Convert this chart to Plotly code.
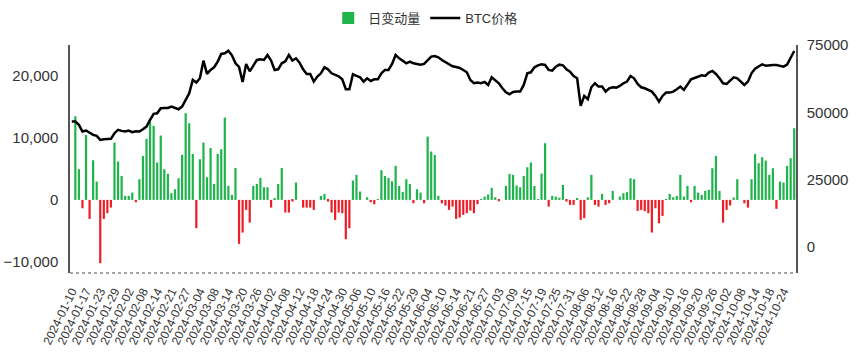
import plotly.graph_objects as go
import pandas as pd

# ---- data ----
holidays = ["2024-01-15", "2024-02-19", "2024-03-29", "2024-05-27", "2024-06-19", "2024-09-02"]
dates = [d.strftime("%Y-%m-%d") for d in pd.bdate_range("2024-01-10", "2024-10-29")
         if d.strftime("%Y-%m-%d") not in holidays]

daily_change = [
    0, 13500, 4950, -1350, 10490, -3070, 6400, 2960, -10220, -3070,
    -2150, -1240, 9250, 6190, 3870, 650, 650, 1180, -380, 3340,
    7100, 9850, 12640, 11940, 6030, 10380, 4950, 4200, 1080, 1720,
    3500, 7260, 13990, 12370, 7420, -4570, 6560, 9250, 3660, 8390,
    2580, 7420, 8180, 13290, 2260, 800, 5160, -7100, -5270, -1610,
    -3670, 2260, 2580, 3550, 2040, 2040, -1240, 220, 2580, 5160,
    -2040, -2040, -270, 2800, 0, -1240, -1240, -1240, -1610, 0,
    650, 970, -270, -2040, -3230, -2040, -2150, -6350, -4570, 3120,
    4040, 1350, 0, 430, -380, -700, 110, 4790, 3870, 3550,
    3010, 5490, 2260, 1290, 3340, 2580, -540, 1720, 1180, -540,
    10220, 7800, 7260, 650, -540, -920, -1610, -1080, -3070, -2850,
    -2420, -2150, -1720, -2150, -700, 110, 540, 860, 1940, 430,
    -220, 0, 2260, 4200, 4040, 2310, 2040, 3870, 5270, 6030,
    2260, 110, 4250, 9150, -1080, 650, 540, 350, 2420, -270,
    -810, -810, 220, -3230, -2960, 430, 4040, -810, -1080, 970,
    -810, -540, 1450, 0, 540, 1080, 1240, 3500, 3340, -1780,
    -1610, -1830, -2150, -5270, -1350, -3770, -2580, 100, 970, 430,
    650, 4040, 540, 2260, -380, 2260, 1180, 800, 1450, 1610,
    5110, 7100, 1450, -3660, -1610, -910, 380, 3340, 0, -540,
    -1240, 3340, 7420, 5920, 6890, 6350, 4040, 5110, -1450, 2960,
    2800, 5490, 6730, 11570,
]

btc_price = [
    46590, 46590, 45360, 42890, 43260, 42520, 41650, 41280, 39800, 40050,
    40170, 40170, 42270, 43510, 43140, 42890, 43260, 42640, 43010, 42890,
    43760, 44740, 47210, 49440, 49680, 51530, 51660, 51660, 52150, 51530,
    51160, 52150, 54380, 57090, 62030, 61040, 62650, 69200, 64260, 65740,
    66730, 68830, 71670, 71910, 72900, 71170, 68210, 66850, 61290, 67960,
    65240, 67220, 69440, 69690, 69440, 71300, 69200, 65740, 65980, 68210,
    68950, 71300, 69200, 70060, 68450, 65980, 64260, 64260, 61410, 63270,
    64500, 66730, 65980, 64500, 64010, 63390, 62280, 58570, 58570, 64130,
    63510, 63020, 61410, 62650, 61660, 62280, 62280, 64500, 65740, 65740,
    67960, 71300, 70060, 69200, 68210, 68830, 68210, 67960, 67710, 67960,
    69200, 70680, 70920, 70430, 69440, 68700, 67960, 67100, 66850, 66480,
    65740, 64870, 62030, 60800, 61040, 60800, 61290, 60180, 63020, 62030,
    60800, 58950, 57460, 56720, 57580, 57710, 57710, 60180, 64500, 64870,
    66730, 67470, 67840, 67590, 65740, 65490, 66970, 67710, 67470, 65980,
    65120, 63510, 62650, 52400, 56100, 54870, 59320, 60800, 59560, 59560,
    57710, 58950, 59320, 59190, 59810, 60800, 61410, 63510, 62650, 60550,
    59320, 58950, 58330, 57710, 56100, 54000, 56100, 57340, 57340, 57710,
    58570, 59560, 58330, 60300, 62280, 62770, 63270, 63760, 63510, 64750,
    65370, 64260, 62650, 60800, 60550, 61790, 63020, 62650, 61410, 60180,
    61410, 64500, 66230, 66970, 67840, 67340, 67590, 67590, 67590, 67220,
    66970, 67710, 70060, 72780,
]

tick_dates = dates[::4]

GREEN = "#1fb44b"
RED = "#ee1c25"
bar_colors = [GREEN if v >= 0 else RED for v in daily_change]

FONT = "Liberation Sans, Arial, Noto Sans CJK SC, sans-serif"

fig = go.Figure()
fig.add_trace(go.Bar(
    x=dates, y=daily_change, name="日变动量",
    marker=dict(color=bar_colors, line=dict(width=0)),
    yaxis="y",
))
fig.add_trace(go.Scatter(
    x=dates, y=btc_price, name="BTC价格", mode="lines",
    line=dict(color="#000000", width=2.5),
    yaxis="y2",
))

fig.update_layout(
    width=860, height=363,
    margin=dict(l=70, r=64, t=45, b=90, autoexpand=False),
    paper_bgcolor="white", plot_bgcolor="white",
    font=dict(family=FONT, size=15, color="#333333"),
    bargap=0.38,
    showlegend=True,
    legend=dict(orientation="h", x=0.49, xanchor="center", y=1.118, yanchor="middle",
                font=dict(size=13, color="#333333"), itemwidth=30,
                traceorder="normal"),
    xaxis=dict(
        type="category", range=[-0.5, len(dates) - 0.5], automargin=False,
        tickmode="array", tickvals=tick_dates, ticktext=tick_dates,
        tickangle=-64, tickfont=dict(size=12, color="#333333"),
        showgrid=False, showline=False, zeroline=False, ticks="",
        ticklabelstandoff=8,
    ),
    yaxis=dict(
        range=[-11800, 25000], tickvals=[-10000, 0, 10000, 20000], automargin=False,
        tickformat=",", showgrid=False, zeroline=False,
        showline=True, linecolor="#555555", linewidth=1.5, ticks="",
        ticklabelstandoff=7,
    ),
    yaxis2=dict(
        range=[-9600, 75000], tickvals=[0, 25000, 50000, 75000], automargin=False,
        tickformat="d", overlaying="y", side="right",
        showgrid=False, zeroline=False,
        showline=True, linecolor="#555555", linewidth=1.5, ticks="",
        ticklabelstandoff=6,
    ),
    shapes=[dict(type="line", xref="paper", yref="paper", x0=0, x1=1, y0=0, y1=0,
                 line=dict(color="#888888", width=1.5, dash="dot"))],
)

fig.write_html("out.html", config={"displayModeBar": False},
               post_script="document.body.style.margin='0';document.body.style.overflow='hidden';")
